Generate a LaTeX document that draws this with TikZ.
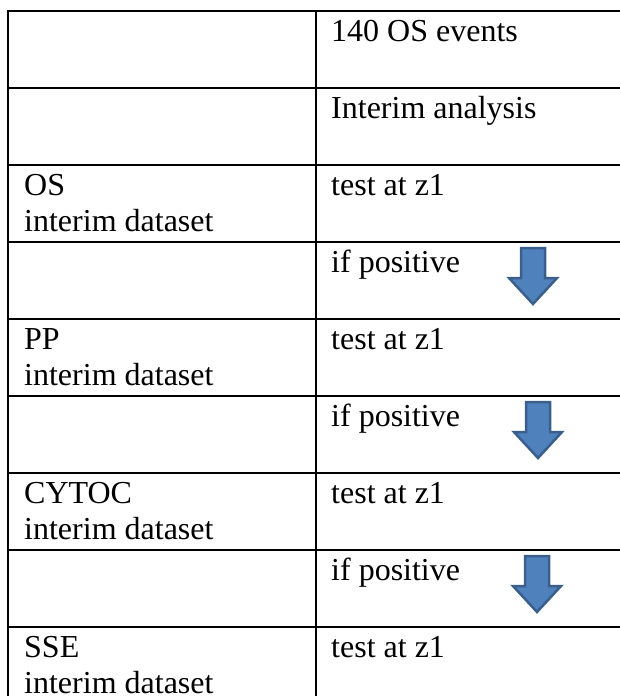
\documentclass[tikz,border=0pt]{standalone}
\usepackage{fontspec}
\setmainfont{Liberation Serif}
\definecolor{arrowfill}{HTML}{4F81BD}
\definecolor{arrowedge}{HTML}{3A5F8B}
\begin{document}
\begin{tikzpicture}[x=1pt,y=-1pt,
  cell/.style={anchor=base west, inner sep=0pt, font=\fontsize{32}{36.8}\selectfont},
  rule/.style={line width=1.7pt, black, line cap=rect},
  downarrow/.style={fill=arrowfill, draw=arrowedge, line width=2.5pt, line join=miter}]
\useasboundingbox (0,0) rectangle (619,696);

% table rules: nine rows of equal height, open to the right and bottom
\foreach \k in {0,...,8}
  \draw[rule] (8,{11+77*\k}) -- (625,{11+77*\k});
\draw[rule] (8,11) -- (8,700);
\draw[rule] (316,11) -- (316,700);

% right column (first baseline 30 below each rule)
\node[cell] (events)  at (331, 41)  {140 OS events};
\node[cell] (interim) at (331, 118) {Interim analysis};
\node[cell] (testos)  at (331, 195) {test at z1};
\node[cell] (ifa)     at (331, 272) {if positive};
\node[cell] (testpp)  at (331, 349) {test at z1};
\node[cell] (ifb)     at (331, 426) {if positive};
\node[cell] (testcy)  at (331, 503) {test at z1};
\node[cell] (ifc)     at (331, 580) {if positive};
\node[cell] (testsse) at (331, 657) {test at z1};

% left column, two lines per cell
\node[cell] (os)     at (24, 195)   {OS};
\node[cell] (osds)   at (24, 231.8) {interim dataset};
\node[cell] (pp)     at (24, 349)   {PP};
\node[cell] (ppds)   at (24, 385.8) {interim dataset};
\node[cell] (cytoc)  at (24, 503)   {CYTOC};
\node[cell] (cytods) at (24, 539.8) {interim dataset};
\node[cell] (sse)    at (24, 657)   {SSE};
\node[cell] (sseds)  at (24, 693.8) {interim dataset};

% block arrows in the "if positive" cells
\foreach \cx/\ty in {533/248, 538/402, 537/556}
  \draw[downarrow] (\cx-12,\ty) -- (\cx+12,\ty) -- (\cx+12,\ty+30)
    -- (\cx+24,\ty+30) -- (\cx,\ty+56) -- (\cx-24,\ty+30)
    -- (\cx-12,\ty+30) -- cycle;
\end{tikzpicture}
\end{document}
